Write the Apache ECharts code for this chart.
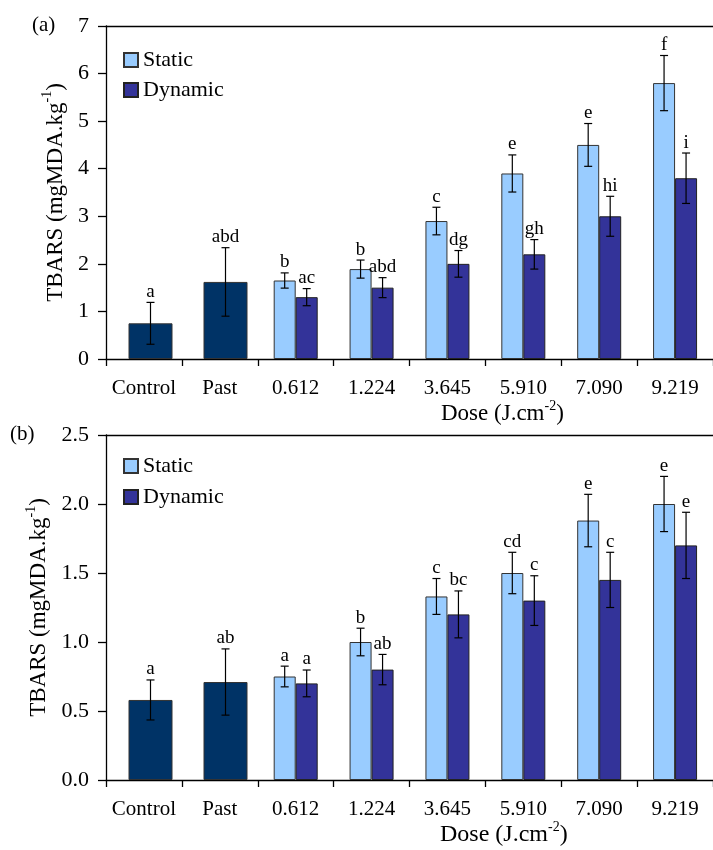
<!DOCTYPE html>
<html><head><meta charset="utf-8">
<script src="https://cdn.jsdelivr.net/npm/echarts@6/dist/echarts.min.js"></script>
<style>html,body{margin:0;padding:0;background:#fff}#c{width:713px;height:850px}</style>
</head><body><div id="c"></div>
<script>
const categories = ['Control', 'Past', '0.612', '1.224', '3.645', '5.910', '7.090', '9.219'];

// Panel (a)
const aBase = [0.75, 1.62, null, null, null, null, null, null];
const aBaseErr = [0.44, 0.72, null, null, null, null, null, null];
const aBaseLetters = ['a', 'abd', '', '', '', '', '', ''];
const aStatic = [null, null, 1.65, 1.89, 2.90, 3.90, 4.50, 5.80];
const aStaticErr = [null, null, 0.16, 0.19, 0.29, 0.39, 0.45, 0.58];
const aStaticLetters = ['', '', 'b', 'b', 'c', 'e', 'e', 'f'];
const aDynamic = [null, null, 1.30, 1.50, 2.00, 2.20, 3.00, 3.80];
const aDynamicErr = [null, null, 0.18, 0.21, 0.28, 0.31, 0.42, 0.53];
const aDynamicLetters = ['', '', 'ac', 'abd', 'dg', 'gh', 'hi', 'i'];

// Panel (b)
const bBase = [0.58, 0.71, null, null, null, null, null, null];
const bBaseErr = [0.145, 0.24, null, null, null, null, null, null];
const bBaseLetters = ['a', 'ab', '', '', '', '', '', ''];
const bStatic = [null, null, 0.75, 1.00, 1.33, 1.50, 1.88, 2.00];
const bStaticErr = [null, null, 0.075, 0.10, 0.13, 0.15, 0.19, 0.20];
const bStaticLetters = ['', '', 'a', 'b', 'c', 'cd', 'e', 'e'];
const bDynamic = [null, null, 0.70, 0.80, 1.20, 1.30, 1.45, 1.70];
const bDynamicErr = [null, null, 0.097, 0.11, 0.17, 0.18, 0.20, 0.24];
const bDynamicLetters = ['', '', 'a', 'ab', 'bc', 'c', 'c', 'e'];

const FONT = "'Liberation Serif','Times New Roman',serif";
const chart = echarts.init(document.getElementById('c'), null, {renderer: 'canvas'});

function richName(size) {
  return {
    n: {fontSize: size, fontFamily: FONT, fontWeight: 'normal', color: '#000', lineHeight: 30},
    s: {fontSize: 14, fontFamily: FONT, fontWeight: 'normal', color: '#000', lineHeight: 14, verticalAlign: 'top'}
  };
}

function errSeries(xIdx, yIdx, vals, errs, letters, offset) {
  const data = [];
  vals.forEach((v, i) => { if (v != null) data.push([i, v, errs[i]]); });
  return {
    type: 'custom', xAxisIndex: xIdx, yAxisIndex: yIdx, z: 10, silent: true,
    data: data,
    renderItem: function (params, api) {
      const i = api.value(0), v = api.value(1), e = api.value(2);
      const hi = api.coord([i, v + e]);
      const lo = api.coord([i, v - e]);
      const x = hi[0] + offset;
      const st = {stroke: '#000', lineWidth: 1.2};
      return {type: 'group', children: [
        {type: 'line', shape: {x1: x, y1: hi[1], x2: x, y2: lo[1]}, style: st},
        {type: 'line', shape: {x1: x - 4, y1: hi[1], x2: x + 4, y2: hi[1]}, style: st},
        {type: 'line', shape: {x1: x - 4, y1: lo[1], x2: x + 4, y2: lo[1]}, style: st},
        {type: 'text', x: x, y: hi[1] - 1, style: {text: letters[i], font: '19px ' + FONT, fill: '#000', align: 'center', verticalAlign: 'bottom'}}
      ]};
    }
  };
}

function mainX(grid) {
  return {
    type: 'category', gridIndex: grid, data: categories, boundaryGap: true,
    axisLine: {lineStyle: {color: '#000', width: 1.3}},
    axisTick: {show: true, inside: false, length: 7, lineStyle: {color: '#000', width: 1.3}},
    axisLabel: {color: '#000', fontFamily: FONT, fontSize: 21, margin: 19, interval: 0},
    splitLine: {show: false}
  };
}
function topX(grid) {
  return {
    type: 'category', gridIndex: grid, data: categories, position: 'top',
    axisLine: {lineStyle: {color: '#000', width: 1.3}},
    axisTick: {show: false}, axisLabel: {show: false}, splitLine: {show: false}
  };
}
function hiddenX(grid) {
  return {type: 'category', gridIndex: grid, data: categories, show: false};
}
function mainY(grid, max, interval, fmt, gap) {
  return {
    type: 'value', gridIndex: grid, min: 0, max: max, interval: interval,
    axisLine: {show: true, lineStyle: {color: '#000', width: 1.3}},
    axisTick: {show: true, inside: false, length: 8, lineStyle: {color: '#000', width: 1.3}},
    axisLabel: {color: '#000', fontFamily: FONT, fontSize: 22, margin: 17, formatter: fmt},
    splitLine: {show: false},
    name: '{n|TBARS (mgMDA.kg}{s|-1}{n|)}', nameLocation: 'middle', nameRotate: 90, nameGap: gap,
    nameTextStyle: {rich: richName(23)}
  };
}
function hiddenY(grid, max, interval) {
  return {type: 'value', gridIndex: grid, min: 0, max: max, interval: interval, show: false};
}

const staticStyle = {color: '#99CCFF', borderColor: '#333', borderWidth: 1};
const dynamicStyle = {color: '#333399', borderColor: '#222', borderWidth: 1};
const baseStyle = {color: '#003366', borderColor: '#333', borderWidth: 1};

const option = {
  animation: false,
  backgroundColor: '#fff',
  title: [
    {text: '(a)', left: 27, top: 10, textStyle: {fontFamily: FONT, fontSize: 21, fontWeight: 'normal', color: '#000'}},
    {text: '(b)', left: 5, top: 419, textStyle: {fontFamily: FONT, fontSize: 21, fontWeight: 'normal', color: '#000'}},
    {text: '{n|Dose (J.cm}{s|-2}{n|)}', left: 436, top: 394, textStyle: {fontWeight: 'normal', rich: richName(23)}},
    {text: '{n|Dose (J.cm}{s|-2}{n|)}', left: 435, top: 815, textStyle: {fontWeight: 'normal', rich: richName(24)}}
  ],
  legend: [
    {data: ['Static', 'Dynamic'], orient: 'vertical', left: 118, top: 44, itemGap: 8, itemWidth: 14, itemHeight: 14, icon: 'rect',
     textStyle: {fontFamily: FONT, fontSize: 22, color: '#000', lineHeight: 22}},
    {data: ['Static', 'Dynamic'], orient: 'vertical', left: 118, top: 450, itemGap: 9, itemWidth: 14, itemHeight: 14, icon: 'rect',
     textStyle: {fontFamily: FONT, fontSize: 22, color: '#000', lineHeight: 22}}
  ],
  grid: [
    {left: 106, top: 26, width: 608, height: 333},
    {left: 113, top: 26, width: 608, height: 333},
    {left: 106, top: 435, width: 617, height: 345},
    {left: 113, top: 435, width: 617, height: 345}
  ],
  xAxis: [mainX(0), topX(0), hiddenX(1), mainX(2), topX(2), hiddenX(3)],
  yAxis: [mainY(0, 7, 1, v => String(v), 29), hiddenY(1, 7, 1), mainY(2, 2.5, 0.5, v => v.toFixed(1), 47), hiddenY(3, 2.5, 0.5)],
  series: [
    {name: 'Static', type: 'bar', xAxisIndex: 0, yAxisIndex: 0, data: aStatic, barWidth: 22, barGap: '0%', itemStyle: staticStyle},
    {name: 'Dynamic', type: 'bar', xAxisIndex: 0, yAxisIndex: 0, data: aDynamic, barWidth: 22, barGap: '0%', itemStyle: dynamicStyle},
    {name: 'Base', type: 'bar', xAxisIndex: 2, yAxisIndex: 1, data: aBase, barWidth: 44, itemStyle: baseStyle},
    errSeries(0, 0, aStatic, aStaticErr, aStaticLetters, -11),
    errSeries(0, 0, aDynamic, aDynamicErr, aDynamicLetters, 11),
    errSeries(2, 1, aBase, aBaseErr, aBaseLetters, 0),

    {name: 'Static', type: 'bar', xAxisIndex: 3, yAxisIndex: 2, data: bStatic, barWidth: 22, barGap: '0%', itemStyle: staticStyle},
    {name: 'Dynamic', type: 'bar', xAxisIndex: 3, yAxisIndex: 2, data: bDynamic, barWidth: 22, barGap: '0%', itemStyle: dynamicStyle},
    {name: 'Base', type: 'bar', xAxisIndex: 5, yAxisIndex: 3, data: bBase, barWidth: 44, itemStyle: baseStyle},
    errSeries(3, 2, bStatic, bStaticErr, bStaticLetters, -11),
    errSeries(3, 2, bDynamic, bDynamicErr, bDynamicLetters, 11),
    errSeries(5, 3, bBase, bBaseErr, bBaseLetters, 0)
  ]
};
chart.setOption(option);
</script></body></html>
